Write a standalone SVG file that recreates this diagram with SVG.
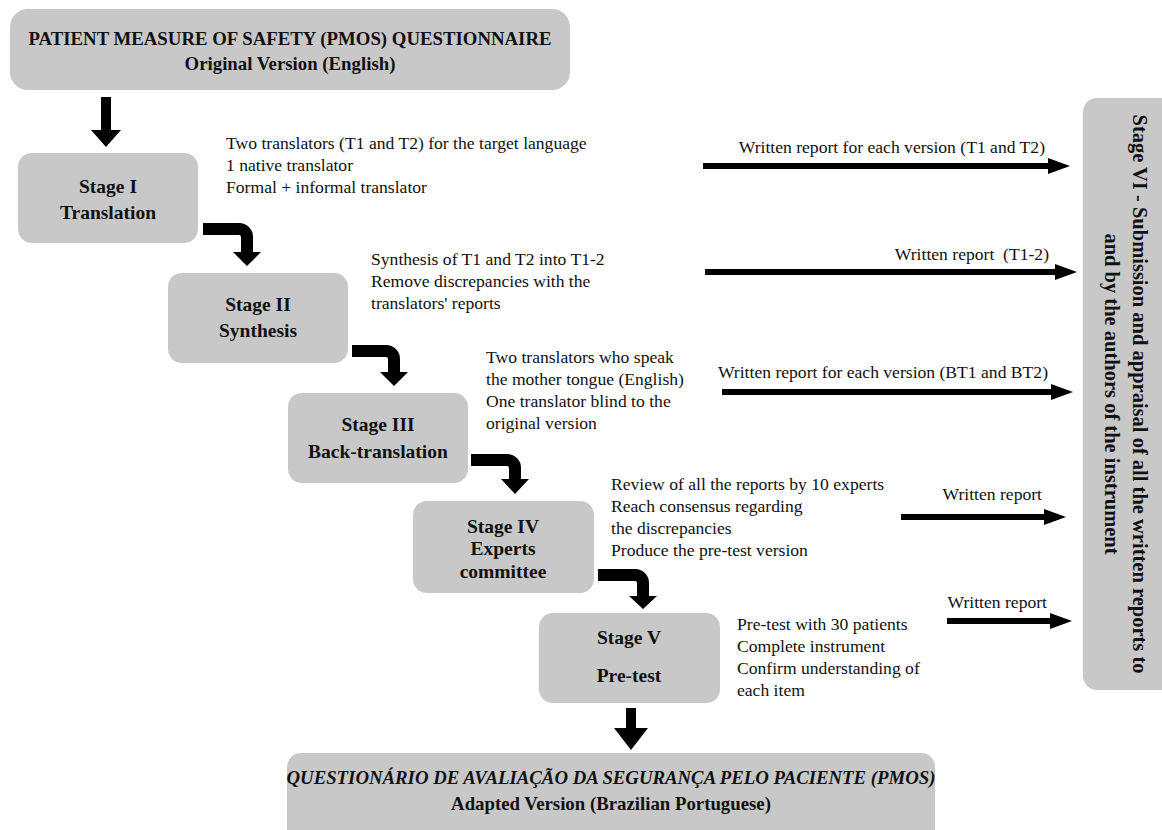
<svg xmlns="http://www.w3.org/2000/svg" width="1162" height="830" viewBox="0 0 1162 830">
<style>
.box{fill:#c8c8c8}
.bt{font-family:"Liberation Serif","Times New Roman",serif;font-weight:bold;font-size:19.5px;fill:#111;text-anchor:middle}
.tt{font-family:"Liberation Serif","Times New Roman",serif;font-weight:bold;font-size:18.8px;fill:#111;text-anchor:middle}
.vt{font-family:"Liberation Serif","Times New Roman",serif;font-weight:bold;font-size:20.5px;fill:#111;text-anchor:middle}
.tx{font-family:"Liberation Serif","Times New Roman",serif;font-size:17.6px;fill:#111}
.lb{font-family:"Liberation Serif","Times New Roman",serif;font-size:17.6px;fill:#111;text-anchor:end;white-space:pre}
.ar{fill:#000}
</style>
<rect width="1162" height="830" fill="#fff"/>
<g id="original">
<rect class="box" x="10" y="9" width="560" height="81" rx="18"/>
<text class="tt" x="290" y="45">PATIENT MEASURE OF SAFETY (PMOS) QUESTIONNAIRE</text>
<text class="tt" x="290" y="70">Original Version (English)</text>
</g>
<g id="stage1">
<rect class="box" x="18" y="153" width="180" height="90" rx="14"/>
<text class="bt" x="108" y="193">Stage I</text>
<text class="bt" x="108" y="219">Translation</text>
</g>
<g id="stage2">
<rect class="box" x="168" y="273" width="180" height="90" rx="14"/>
<text class="bt" x="258" y="311">Stage II</text>
<text class="bt" x="258" y="337">Synthesis</text>
</g>
<g id="stage3">
<rect class="box" x="288" y="393" width="180" height="90" rx="14"/>
<text class="bt" x="378" y="431">Stage III</text>
<text class="bt" x="378" y="458">Back-translation</text>
</g>
<g id="stage4">
<rect class="box" x="413" y="501" width="181" height="92" rx="14"/>
<text class="bt" x="503" y="533">Stage IV</text>
<text class="bt" x="503" y="555">Experts</text>
<text class="bt" x="503" y="578">committee</text>
</g>
<g id="stage5">
<rect class="box" x="539" y="613" width="181" height="90" rx="14"/>
<text class="bt" x="629" y="644">Stage V</text>
<text class="bt" x="629" y="682">Pre-test</text>
</g>
<g id="stage6">
<rect class="box" x="1083" y="98" width="95" height="592" rx="14"/>
<text class="vt" transform="translate(1133 394) rotate(90)">Stage VI - Submission and appraisal of all the written reports to</text>
<text class="vt" transform="translate(1105 394) rotate(90)">and by the authors of the instrument</text>
</g>
<g id="adapted">
<rect class="box" x="287" y="753" width="648" height="95" rx="14"/>
<text class="tt" x="611" y="784" font-style="italic" font-size="18.2px">QUESTIONÁRIO DE AVALIAÇÃO DA SEGURANÇA PELO PACIENTE (PMOS)</text>
<text class="tt" x="611" y="810">Adapted Version (Brazilian Portuguese)</text>
</g>
<g id="notes">
<text class="tx" x="226" y="149"><tspan x="226">Two translators (T1 and T2) for the target language</tspan><tspan x="226" dy="22">1 native translator</tspan><tspan x="226" dy="22">Formal + informal translator</tspan></text>
<text class="tx" x="371" y="265"><tspan x="371">Synthesis of T1 and T2 into T1-2</tspan><tspan x="371" dy="22">Remove discrepancies with the</tspan><tspan x="371" dy="22">translators' reports</tspan></text>
<text class="tx" x="486" y="363"><tspan x="486">Two translators who speak</tspan><tspan x="486" dy="22">the mother tongue (English)</tspan><tspan x="486" dy="22">One translator blind to the</tspan><tspan x="486" dy="22">original version</tspan></text>
<text class="tx" x="611" y="490"><tspan x="611">Review of all the reports by 10 experts</tspan><tspan x="611" dy="22">Reach consensus regarding</tspan><tspan x="611" dy="22">the discrepancies</tspan><tspan x="611" dy="22">Produce the pre-test version</tspan></text>
<text class="tx" x="737" y="630"><tspan x="737">Pre-test with 30 patients</tspan><tspan x="737" dy="22">Complete instrument</tspan><tspan x="737" dy="22">Confirm understanding of</tspan><tspan x="737" dy="22">each item</tspan></text>
<text class="lb" x="1045" y="153">Written report for each version (T1 and T2)</text>
<text class="lb" x="1049" y="260">Written report  (T1-2)</text>
<text class="lb" x="1048" y="378">Written report for each version (BT1 and BT2)</text>
<text class="lb" x="1042" y="500">Written report</text>
<text class="lb" x="1047" y="608">Written report</text>
</g>
<g id="connectors">
<path class="ar" d="M101,97 H111 V130 H121 L106,147 L91,130 H101 Z"/>
<path class="ar" d="M203,223 H239 A14,14 0 0 1 253,237 V252 H261 L247,266 L233,252 H241 V237 A2,2 0 0 0 239,235 H203 Z"/>
<path class="ar" d="M352,345 H386 A14,14 0 0 1 400,359 V372 H408 L394,386 L380,372 H388 V359 A2,2 0 0 0 386,357 H352 Z"/>
<path class="ar" d="M471,454 H507 A14,14 0 0 1 521,468 V479 H529 L515,494 L501,479 H509 V468 A2,2 0 0 0 507,466 H471 Z"/>
<path class="ar" d="M598,569 H635 A14,14 0 0 1 649,583 V596 H657 L643,609 L629,596 H637 V583 A2,2 0 0 0 635,581 H598 Z"/>
<path class="ar" d="M626,708 H636 V728 H648 L631,750 L614,728 H626 Z"/>
<path class="ar" d="M703,163 H1048 V158 L1070,166 L1048,174 V169 H703 Z"/>
<path class="ar" d="M705,269 H1055 V264 L1077,272 L1055,280 V275 H705 Z"/>
<path class="ar" d="M722,389 H1051 V384 L1073,392 L1051,400 V395 H722 Z"/>
<path class="ar" d="M901,514 H1044 V509 L1066,517 L1044,525 V520 H901 Z"/>
<path class="ar" d="M947,618 H1050 V613 L1072,621 L1050,629 V624 H947 Z"/>
</g>
</svg>
